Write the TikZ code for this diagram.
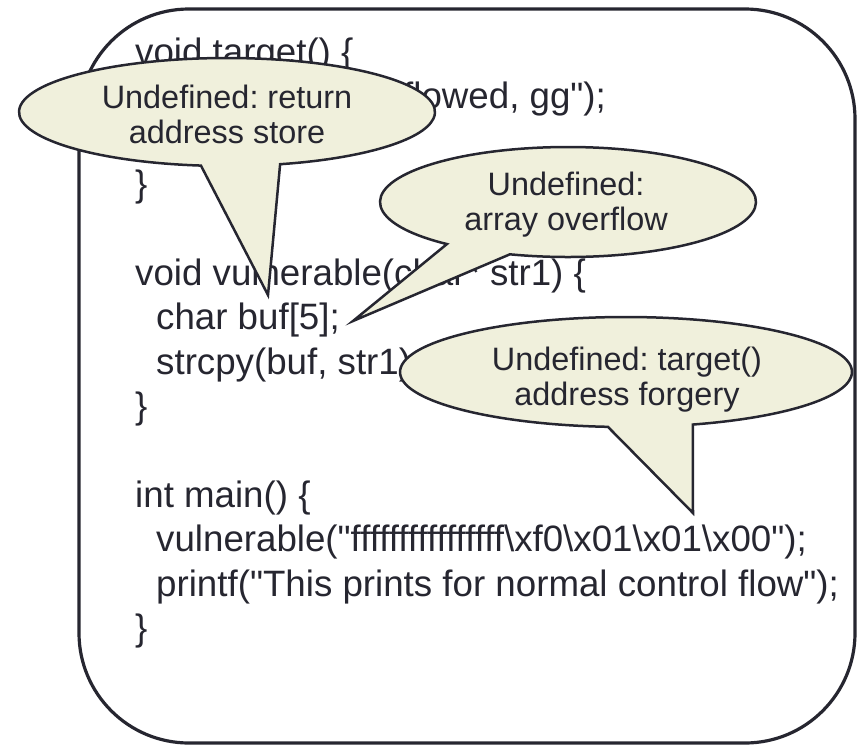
\documentclass[tikz,border=0pt]{standalone}
\usepackage{fontspec}
\newfontfamily\codefont{Liberation Sans}[Ligatures=NoCommon]
\definecolor{ink}{RGB}{38,38,48}
\definecolor{note}{RGB}{240,240,220}
\begin{document}
\frenchspacing
\begin{tikzpicture}[x=1pt,y=-1pt,
  code/.style={anchor=base west, inner sep=0pt, text=ink,
    font=\codefont\fontsize{36.7}{44}\selectfont},
  balloon/.style={fill=note, draw=ink, line width=2.5pt, line join=miter},
  balloontext/.style={align=center, text=ink, inner sep=0pt,
    font=\codefont\fontsize{32.4}{35}\selectfont},
  frame/.style={draw=ink, line width=3.2pt, rounded corners=110pt}]
\useasboundingbox (0,0) rectangle (863,748);

% outer frame
\draw[frame] (79,9) rectangle (855,743);

% source listing
\node[code] (l1)  at (135,64)  {void target() \{};
\node[code] (l2)  at (403,108) {flowed, gg");};
\node[code] (l4)  at (135,196) {\}};
\node[code] (l6)  at (135,285) {void vulnerable(char* str1) \{};
\node[code] (l7)  at (156,329) {char buf[5];};
\node[code] (l8)  at (156,374) {strcpy(buf, str1);};
\node[code] (l9)  at (135,418) {\}};
\node[code] (l11) at (135,507) {int main() \{};
\node[code] (l12) at (156,551) {vulnerable("ffffffffffffffff\textbackslash xf0\textbackslash x01\textbackslash x01\textbackslash x00");};
\node[code] (l13) at (156,596) {printf("This prints for normal control flow");};
\node[code] (l14) at (135,640) {\}};

% callout tips
\coordinate (tip1) at (268,295);
\coordinate (tip2) at (353,321);
\coordinate (tip3) at (693,513);

% callout: return address
\path[balloon] (227,112) ++(97.2:208 and 54)
  arc[start angle=97.2, end angle=435.2, x radius=208, y radius=54]
  -- (tip1) -- cycle;
\node[balloontext] (b1) at (227,114) {Undefined: return\\address store};

% callout: array overflow
\path[balloon] (568,202) ++(130.1:188 and 55)
  arc[start angle=130.1, end angle=468, x radius=188, y radius=55]
  -- (tip2) -- cycle;
\node[balloontext] (b2) at (566,205) {Undefined:\\array overflow};

% callout: address forgery
\path[balloon] (626,372) ++(94.6:226 and 55)
  arc[start angle=94.6, end angle=432.8, x radius=226, y radius=55]
  -- (tip3) -- cycle;
\node[balloontext] (b3) at (627,380) {Undefined: target()\\address forgery};
\end{tikzpicture}
\end{document}
